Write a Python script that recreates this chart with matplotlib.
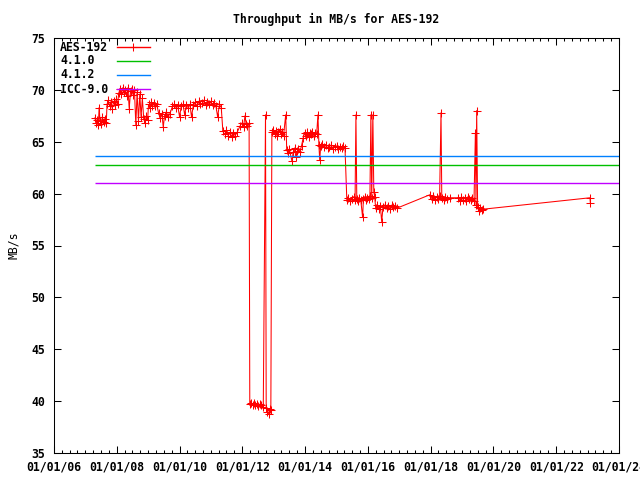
import numpy as np
import matplotlib
matplotlib.use("Agg")
import matplotlib.pyplot as plt
import matplotlib.dates as mdates
from matplotlib.ticker import MultipleLocator

# AES-192 throughput samples (date, MB/s)
aes_dates = [
    "2007-04-22", "2007-05-05", "2007-05-18", "2007-06-01", "2007-06-10", "2007-06-20",
    "2007-07-05", "2007-07-18", "2007-08-01", "2007-08-15", "2007-09-01",
    "2007-09-10", "2007-09-25", "2007-10-10", "2007-10-25", "2007-11-10", "2007-11-25",
    "2007-12-10", "2007-12-25", "2008-01-10",
    "2008-01-25", "2008-02-10", "2008-02-25", "2008-03-10", "2008-03-25", "2008-04-10",
    "2008-04-25", "2008-05-10", "2008-05-25", "2008-06-10", "2008-06-25", "2008-07-10",
    "2008-07-25", "2008-08-10", "2008-08-25", "2008-09-10", "2008-09-25", "2008-10-10",
    "2008-10-25",
    "2008-11-10", "2008-11-25", "2008-12-10", "2008-12-25",
    "2009-01-05", "2009-01-20", "2009-02-05", "2009-02-20", "2009-03-10", "2009-03-25",
    "2009-04-10",
    "2009-05-01", "2009-05-20", "2009-06-10", "2009-06-25", "2009-07-10", "2009-08-01",
    "2009-08-20", "2009-09-10",
    "2009-10-10", "2009-10-30", "2009-11-20", "2009-12-10", "2010-01-01", "2010-01-20",
    "2010-02-10", "2010-03-01", "2010-03-20", "2010-04-10", "2010-05-01", "2010-05-20",
    "2010-06-10", "2010-07-01", "2010-07-20", "2010-08-10", "2010-09-01", "2010-09-20",
    "2010-10-10", "2010-11-01", "2010-11-20", "2010-12-10", "2011-01-01", "2011-01-20",
    "2011-02-10", "2011-03-01", "2011-03-20", "2011-04-10", "2011-05-01",
    "2011-05-20", "2011-06-10", "2011-07-01", "2011-07-20", "2011-08-10", "2011-09-01",
    "2011-09-20", "2011-10-10", "2011-11-01",
    "2011-12-05", "2011-12-25", "2012-01-15", "2012-02-01", "2012-02-15", "2012-03-01",
    "2012-03-20",
    "2012-03-28", "2012-04-15", "2012-05-01", "2012-05-15", "2012-06-01", "2012-06-15",
    "2012-07-01", "2012-07-20", "2012-08-10", "2012-09-01",
    "2012-09-27",
    "2012-10-05", "2012-10-20", "2012-11-01", "2012-11-15", "2012-11-28",
    "2012-12-10", "2012-12-25", "2013-01-10", "2013-01-25", "2013-02-10", "2013-02-25",
    "2013-03-10", "2013-03-25", "2013-04-10", "2013-04-25", "2013-05-20",
    "2013-06-01", "2013-06-15", "2013-07-01", "2013-08-01", "2013-08-15", "2013-09-01",
    "2013-09-15", "2013-10-01", "2013-10-15", "2013-11-01", "2013-11-20",
    "2013-12-10", "2013-12-25", "2014-01-10", "2014-01-25", "2014-02-10", "2014-02-25",
    "2014-03-10", "2014-03-25", "2014-04-10", "2014-04-25", "2014-05-15", "2014-05-30",
    "2014-06-10", "2014-06-20",
    "2014-07-01", "2014-07-20", "2014-08-10", "2014-09-01", "2014-09-20", "2014-10-10",
    "2014-11-01", "2014-11-20", "2014-12-10", "2015-01-01", "2015-01-20", "2015-02-10",
    "2015-03-01", "2015-03-20", "2015-04-10",
    "2015-05-01", "2015-05-20", "2015-06-10", "2015-07-01", "2015-07-20", "2015-08-05",
    "2015-08-15", "2015-08-25", "2015-09-10", "2015-09-25", "2015-10-10", "2015-11-01",
    "2015-11-10", "2015-11-25", "2015-12-10", "2015-12-25", "2016-01-10", "2016-01-25",
    "2016-02-05", "2016-02-15", "2016-02-28", "2016-03-10", "2016-03-20",
    "2016-04-01", "2016-04-20", "2016-05-10", "2016-05-25", "2016-06-10", "2016-06-25",
    "2016-07-15", "2016-08-05", "2016-08-25", "2016-09-15", "2016-10-05", "2016-10-25",
    "2016-11-15", "2016-12-05",
    "2017-12-25", "2018-01-15", "2018-02-01", "2018-02-20", "2018-03-10", "2018-03-25",
    "2018-04-15", "2018-05-01", "2018-05-10", "2018-05-30", "2018-06-20", "2018-07-10",
    "2018-08-10",
    "2018-11-15", "2018-12-05", "2018-12-25", "2019-01-15", "2019-02-01", "2019-02-20",
    "2019-03-10", "2019-03-25", "2019-04-15", "2019-05-01", "2019-05-20", "2019-06-05",
    "2019-06-12", "2019-06-20", "2019-07-01", "2019-07-15", "2019-08-01", "2019-08-20",
    "2019-09-05",
    "2023-01-28", "2023-02-02",
]
aes_mbps = [
    67.3, 66.8, 67.1, 66.6, 68.3, 67.0,
    66.7, 67.4, 66.9, 67.2, 66.8,
    68.6, 69.0, 68.4, 68.8, 68.2, 68.9,
    68.5, 69.1, 68.6,
    69.7, 70.1, 69.6, 70.2, 69.8, 70.0,
    69.4, 70.2, 68.2, 69.9, 70.1, 69.5,
    70.0, 66.6, 69.8, 67.0, 69.6, 67.4,
    69.2,
    67.2, 66.8, 67.5, 67.1,
    68.6, 68.3, 68.8, 68.4, 68.7, 68.4,
    68.6,
    67.8, 67.3, 67.7, 66.4, 67.5, 67.9,
    67.4, 67.7,
    68.4, 68.6, 68.3, 68.5, 67.4, 68.4,
    68.6, 67.6, 68.5, 68.3, 68.6, 67.4,
    68.5, 68.8, 68.4, 68.9, 68.6, 68.7,
    69.0, 68.5, 68.8, 68.6, 68.9, 68.5,
    68.7, 68.4, 67.4, 68.6, 68.3,
    66.0, 65.7, 66.1, 65.6, 65.9, 65.5,
    65.8, 65.6, 65.9,
    66.5, 66.8, 66.4, 67.5, 66.7, 66.5,
    66.8,
    39.7, 39.8, 39.6, 39.8, 39.6, 39.7,
    39.5, 39.7, 39.6, 39.4,
    67.6,
    39.3, 39.0, 38.8, 39.2, 39.1,
    65.9, 66.1, 65.7, 66.0, 65.6, 65.9,
    66.2, 65.7, 65.9, 65.6, 67.6,
    64.2, 63.9, 64.3, 63.1, 64.0, 64.4,
    63.5, 64.1, 64.3, 64.0, 64.6,
    65.4, 65.8, 65.6, 65.9, 65.5, 65.8,
    65.7, 65.9, 65.6, 65.8, 65.7, 67.6,
    64.7, 63.2,
    64.6, 64.8, 64.5, 64.7, 64.4, 64.5,
    64.7, 64.3, 64.5, 64.6, 64.3, 64.5,
    64.4, 64.6, 64.4,
    59.4, 59.6, 59.3, 59.5, 59.7, 59.4,
    67.6, 59.5, 59.3, 59.6, 59.4, 57.7,
    59.5, 59.7, 59.4, 59.6, 59.5, 59.8,
    67.6, 59.6, 67.6, 60.2, 59.7,
    58.6, 58.9, 58.5, 58.8, 57.3, 58.7,
    58.9, 58.6, 58.8, 58.5, 58.9, 58.7,
    58.8, 58.6,
    59.9, 59.5, 59.8, 59.4, 59.7, 59.5,
    59.8, 67.8, 59.6, 59.4, 59.7, 59.5,
    59.6,
    59.6, 59.3, 59.7, 59.4, 59.6, 59.3,
    59.7, 59.5, 59.4, 59.6, 59.3, 65.8,
    58.9, 68.0, 58.7, 58.3, 58.6, 58.4,
    58.5,
    59.6, 59.1,
]

# reference versions (constant throughput)
ref_names = ["4.1.0", "4.1.2", "ICC-9.0"]
ref_mbps = [62.76, 63.63, 61.02]
ref_colors = ["#00c000", "#0080ff", "#c000ff"]

plt.rcParams["font.family"] = "DejaVu Sans Mono"
plt.rcParams["font.weight"] = "bold"
plt.rcParams["font.size"] = 8.3
plt.rcParams["path.simplify"] = False

LW = 0.75
REF_LW = 1.0

fig = plt.figure(figsize=(6.4, 4.8), dpi=100)
ax = fig.add_axes([54 / 640, 1 - 453 / 480, 565 / 640, 415 / 480])

dates = [np.datetime64(d) for d in aes_dates]
x_start = np.datetime64("2006-01-01")
x_end = np.datetime64("2024-01-01")

ax.plot(dates, aes_mbps, color="#ff0000", lw=LW, marker="+", ms=5.5, mew=LW)
for val, col in zip(ref_mbps, ref_colors):
    ax.plot([dates[0], x_end], [val, val], color=col, lw=REF_LW, snap=True,
            solid_capstyle="butt")

ax.set_xlim(x_start, x_end)
ax.set_ylim(35, 75)
ax.xaxis.set_major_locator(mdates.YearLocator(2))
ax.xaxis.set_minor_locator(mdates.MonthLocator(bymonth=[1, 4, 7, 10]))
ax.xaxis.set_major_formatter(mdates.DateFormatter("%m/%d/%y"))
ax.yaxis.set_major_locator(MultipleLocator(5))

ax.tick_params(which="both", direction="in", top=True, right=True, width=0.75)
ax.tick_params(which="major", length=5)
ax.tick_params(which="minor", length=2.5)
ax.tick_params(axis="y", pad=6.5)
ax.tick_params(axis="x", pad=5.5)
for s in ax.spines.values():
    s.set_linewidth(0.75)

ax.set_title("Throughput in MB/s for AES-192", pad=11, fontsize=8.3, fontweight="bold")
ax.set_ylabel("MB/s")
ax.yaxis.set_label_coords(-0.060, 0.5)

# gnuplot-style key: label left, sample right
labels = ["AES-192"] + ref_names
colors = ["#ff0000"] + ref_colors
rows = [0.978, 0.945, 0.911, 0.877]
for lab, col, ry in zip(labels, colors, rows):
    ax.text(0.011, ry, lab, transform=ax.transAxes, va="center", ha="left")
    ax.plot([0.1115, 0.170], [ry, ry], color=col, lw=REF_LW, snap=True,
            transform=ax.transAxes)
ax.plot([0.1405], [rows[0]], color="#ff0000", marker="+", ms=5.5, mew=LW,
        transform=ax.transAxes)

fig.savefig("out.png", dpi=100)
